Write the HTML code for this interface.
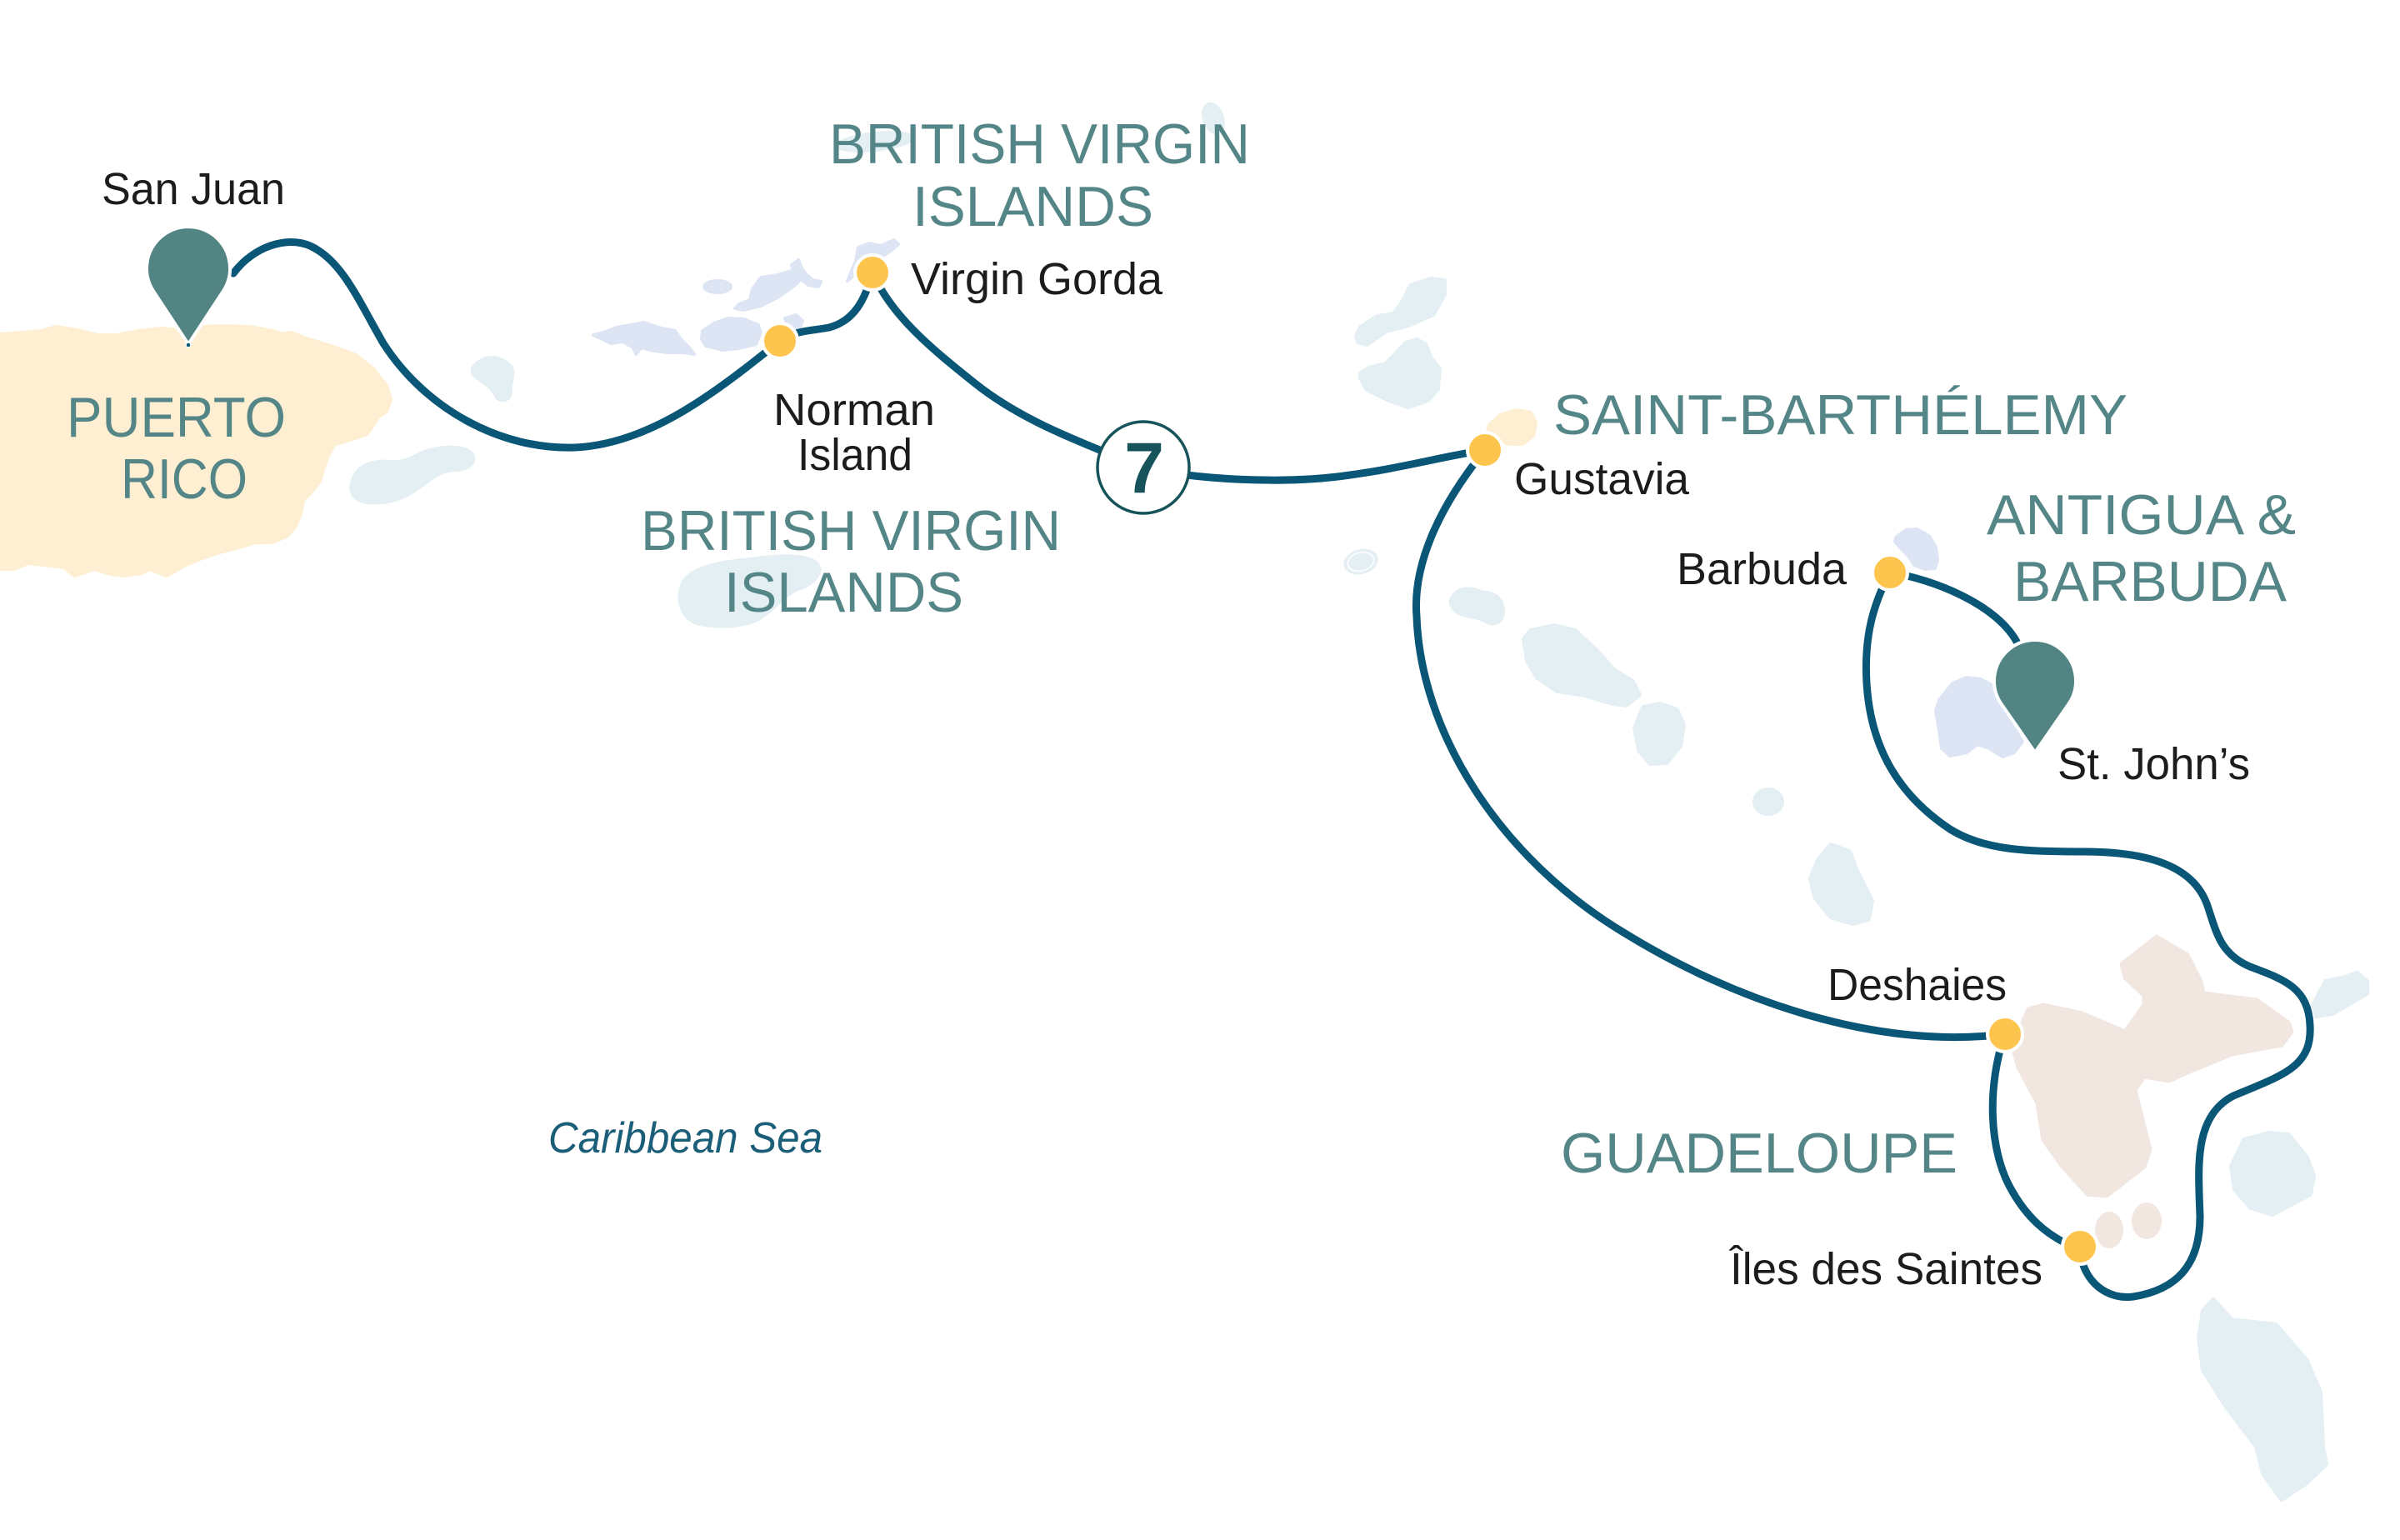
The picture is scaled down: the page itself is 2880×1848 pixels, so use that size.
<!DOCTYPE html>
<html>
<head>
<meta charset="utf-8">
<style>
html,body{margin:0;padding:0;background:#ffffff;}
svg{display:block;}
.lbl{font-family:"Liberation Sans",sans-serif;font-size:54px;fill:#1c1c1c;}
.reg{font-family:"Liberation Sans",sans-serif;font-size:68px;fill:#548688;}
.lb{fill:#e3eff3;stroke:#e3eff3;stroke-width:6;stroke-linejoin:round;}
.lv{fill:#dde5f4;stroke:#dde5f4;stroke-width:4;stroke-linejoin:round;}
</style>
</head>
<body>
<svg width="2880" height="1848" viewBox="0 0 2880 1848" xmlns="http://www.w3.org/2000/svg">
<rect width="2880" height="1848" fill="#ffffff"/>

<!-- Puerto Rico -->
<path fill="#feefd2" stroke="#feefd2" stroke-width="6" stroke-linejoin="round" d="M0,402 L27,400 L50,398 L67,393 L93,397 L117,403 L140,403 L167,398 L193,395 L217,397 L240,393 L267,392 L300,393 L327,398 L340,402 L350,400 L367,407 L400,417 L427,427 L447,443 L463,463 L468,480 L463,493 L453,500 L447,510 L440,520 L420,527 L400,533 L393,547 L387,563 L383,577 L373,590 L363,600 L360,617 L353,633 L343,643 L327,650 L307,650 L283,657 L260,663 L240,670 L223,677 L200,690 L180,682 L170,687 L150,690 L133,688 L113,682 L90,690 L77,680 L53,677 L33,675 L17,682 L0,682 Z"/>

<!-- light blue islands -->
<path class="lb" d="M575,435 C590,425 605,432 612,440 C618,450 610,460 612,470 C612,480 600,482 596,475 C590,462 580,458 572,452 C565,447 567,440 575,435 Z"/>
<path class="lb" d="M424,576 C430,558 450,553 470,555 C490,556 500,546 515,541 C535,536 560,536 566,546 C571,556 560,563 545,563 C525,564 515,576 500,586 C480,600 460,604 440,602 C425,599 419,590 424,576 Z"/>
<path class="lb" d="M820,700 C830,680 870,675 900,672 C930,668 960,665 978,675 C990,685 975,700 960,705 C940,712 930,730 910,742 C890,752 860,752 840,748 C818,742 812,720 820,700 Z"/>
<ellipse cx="1050" cy="170" rx="48" ry="12" fill="#e3eff3" transform="rotate(-6 1050 170)"/>
<ellipse cx="1456" cy="142" rx="13" ry="20" fill="#e3eff3" transform="rotate(-20 1456 142)"/>
<path class="lb" d="M1630,410 L1640,413 L1663,397 L1690,390 L1720,377 L1733,353 L1733,337 L1717,335 L1693,343 L1683,363 L1673,377 L1653,380 L1633,393 L1628,403 Z"/>
<path class="lb" d="M1633,453 L1640,467 L1667,480 L1690,488 L1713,480 L1725,467 L1727,443 L1717,430 L1710,413 L1700,408 L1687,412 L1673,427 L1663,437 L1643,442 L1633,448 Z"/>
<g transform="rotate(-15 1633 674)">
<ellipse cx="1633" cy="674" rx="21" ry="15" fill="#e3eff3"/>
<ellipse cx="1633" cy="674" rx="16" ry="11" fill="#e3eff3" stroke="#ffffff" stroke-width="1.6"/>
</g>
<path class="lb" d="M1745,715 C1755,703 1770,708 1780,712 C1795,712 1803,720 1803,735 C1802,748 1790,750 1782,744 C1770,738 1755,740 1747,732 C1740,725 1740,720 1745,715 Z"/>
<path class="lb" d="M1837,757 L1865,751 L1890,757 L1918,783 L1935,803 L1959,818 L1967,834 L1951,846 L1935,844 L1902,834 L1869,829 L1845,813 L1833,793 L1829,767 Z"/>
<path class="lb" d="M1972,849 L1992,845 L2012,852 L2020,869 L2016,895 L2000,915 L1980,916 L1967,900 L1962,874 Z"/>
<ellipse cx="2122" cy="962" rx="19" ry="17" fill="#e3eff3"/>
<path class="lb" d="M2197,1014 L2219,1022 L2227,1043 L2246,1081 L2242,1103 L2223,1108 L2197,1100 L2178,1076 L2173,1054 L2182,1032 Z"/>
<path class="lb" d="M2776,1206 L2791,1178 L2814,1173 L2829,1168 L2840,1178 L2840,1192 L2821,1203 L2799,1216 L2780,1219 Z"/>
<path class="lb" d="M2693,1368 L2723,1360 L2746,1362 L2768,1389 L2776,1411 L2772,1433 L2753,1443 L2727,1457 L2701,1449 L2682,1427 L2678,1400 Z"/>
<path class="lb" d="M2656,1560 L2678,1584 L2731,1590 L2768,1633 L2784,1671 L2787,1736 L2791,1757 L2768,1779 L2738,1799 L2716,1768 L2708,1736 L2671,1687 L2644,1644 L2639,1606 L2644,1573 Z"/>

<!-- lavender islands (BVI / USVI) -->
<path class="lv" d="M712,402 L723,407 L733,412 L747,410 L760,417 L763,425 L770,417 L780,420 L800,423 L820,423 L833,425 L827,417 L817,407 L810,397 L790,393 L773,387 L757,390 L740,393 L727,398 Z"/>
<path class="lv" d="M842,407 L847,415 L867,420 L887,418 L907,413 L913,400 L910,390 L893,383 L873,382 L857,388 L843,397 Z"/>
<path class="lv" d="M882,370 L893,372 L913,367 L933,357 L953,343 L963,333 L962,323 L950,325 L933,330 L913,333 L903,347 L900,360 L887,365 Z"/>
<ellipse cx="861" cy="344" rx="18" ry="9" fill="#dde5f4"/>
<path class="lv" d="M1017,337 L1027,313 L1030,297 L1043,292 L1057,295 L1073,288 L1078,293 L1070,300 L1060,307 L1047,310 Z"/>
<path class="lv" d="M942,382 L955,378 L963,385 L960,393 L945,393 Z"/>
<path class="lv" d="M950,318 L958,312 L962,322 L968,330 L975,336 L985,338 L982,344 L970,342 L960,334 L952,326 Z"/>
<!-- Barbuda / Antigua -->
<path class="lv" d="M2275,645 L2287,636 L2300,635 L2315,643 L2323,657 L2325,672 L2322,682 L2310,683 L2297,678 L2290,667 L2280,657 L2274,650 Z"/>
<path class="lv" d="M2327,840 L2343,820 L2360,813 L2377,815 L2392,823 L2397,840 L2413,867 L2427,890 L2417,903 L2403,908 L2387,898 L2373,893 L2360,903 L2340,907 L2330,898 L2327,877 L2323,853 Z"/>

<!-- Saint-Barth (beige) -->
<path fill="#feefd2" stroke="#feefd2" stroke-width="4" stroke-linejoin="round" d="M1787,510 L1800,498 L1820,492 L1837,495 L1843,507 L1840,523 L1827,533 L1810,533 L1795,527 L1785,517 Z"/>

<!-- Guadeloupe (pink) -->
<path fill="#f1e6e0" stroke="#f1e6e0" stroke-width="5" stroke-linejoin="round" d="M2588,1124 L2625,1146 L2641,1178 L2644,1192 L2708,1200 L2746,1227 L2750,1238 L2738,1254 L2678,1265 L2625,1287 L2603,1297 L2573,1292 L2562,1308 L2573,1352 L2580,1379 L2573,1400 L2528,1435 L2505,1433 L2475,1400 L2452,1368 L2445,1324 L2422,1281 L2415,1254 L2434,1211 L2452,1206 L2498,1216 L2550,1238 L2573,1206 L2573,1195 L2550,1173 L2546,1157 Z"/>
<ellipse cx="2531" cy="1476" rx="17" ry="22" fill="#f1e6e0"/>
<ellipse cx="2576" cy="1465" rx="18" ry="22" fill="#f1e6e0"/>

<!-- Route -->
<g fill="none" stroke="#0a5677" stroke-width="9" stroke-linecap="round">
<path d="M280,328 C305,295 345,283 372,295 C410,312 430,360 460,412 C510,490 600,540 690,537 C780,533 860,470 936,409"/>
<path d="M936,409 C955,396 975,397 995,393 C1025,385 1038,360 1047,327"/>
<path d="M1047,327 C1070,380 1120,420 1170,460 C1220,500 1280,525 1372,561 C1430,575 1540,582 1620,570 C1680,562 1730,548 1782,540"/>
<path d="M1782,540 C1725,610 1695,680 1700,740 C1705,880 1800,1030 1950,1120 C2080,1200 2250,1260 2406,1241"/>
<path d="M2406,1241 C2385,1300 2385,1380 2415,1430 C2435,1465 2460,1485 2496,1500"/>
<path d="M2496,1500 C2500,1540 2530,1560 2560,1556 C2610,1548 2640,1520 2640,1460 C2638,1400 2632,1340 2680,1315 C2740,1290 2775,1280 2772,1230 C2770,1185 2740,1175 2700,1160 C2665,1145 2660,1120 2650,1090 C2635,1040 2580,1022 2500,1022 C2430,1022 2380,1020 2340,995 C2280,955 2245,900 2240,820 C2237,770 2245,730 2268,687"/>
<path d="M2268,687 C2320,695 2395,725 2420,770"/>
</g>

<!-- Day circle -->
<circle cx="1372" cy="561" r="55" fill="#ffffff" stroke="#16535b" stroke-width="3.5"/>
<text x="1373" y="591" font-family="Liberation Sans, sans-serif" font-weight="bold" font-size="86" fill="#16535b" text-anchor="middle">7</text>

<!-- Port dots -->
<g fill="#fec54e" stroke="#ffffff" stroke-width="4">
<circle cx="936" cy="409" r="21"/>
<circle cx="1047" cy="327" r="21"/>
<circle cx="1782" cy="540" r="21"/>
<circle cx="2268" cy="687" r="21"/>
<circle cx="2406" cy="1241" r="21"/>
<circle cx="2496" cy="1496" r="21"/>
</g>

<!-- Pins -->
<path d="M226,413 L184.2,349.5 A50,50 0 1,1 267.8,349.5 Z" fill="#528484" stroke="#ffffff" stroke-width="4" stroke-linejoin="round"/>
<circle cx="226" cy="414" r="3" fill="#0a5677" stroke="#ffffff" stroke-width="1.5"/>
<path d="M2442,903 L2401.7,844.9 A49,49 0 1,1 2482.3,844.9 Z" fill="#528484" stroke="#ffffff" stroke-width="4" stroke-linejoin="round"/>

<!-- Region labels -->
<text class="reg" font-size="66" x="80" y="524" textLength="263" lengthAdjust="spacingAndGlyphs">PUERTO</text>
<text class="reg" font-size="66" x="145" y="598" textLength="152" lengthAdjust="spacingAndGlyphs">RICO</text>
<text class="reg" x="995" y="196" textLength="505" lengthAdjust="spacingAndGlyphs">BRITISH VIRGIN</text>
<text class="reg" x="1095" y="271" textLength="289" lengthAdjust="spacingAndGlyphs">ISLANDS</text>
<text class="reg" x="769" y="660" textLength="504" lengthAdjust="spacingAndGlyphs">BRITISH VIRGIN</text>
<text class="reg" x="869" y="734" textLength="287" lengthAdjust="spacingAndGlyphs">ISLANDS</text>
<text class="reg" x="1864" y="521" textLength="689" lengthAdjust="spacingAndGlyphs">SAINT-BARTHÉLEMY</text>
<text class="reg" font-size="66" x="2384" y="641" textLength="371" lengthAdjust="spacingAndGlyphs">ANTIGUA &amp;</text>
<text class="reg" font-size="66" x="2416" y="721" textLength="328" lengthAdjust="spacingAndGlyphs">BARBUDA</text>
<text class="reg" x="1873" y="1407" textLength="476" lengthAdjust="spacingAndGlyphs">GUADELOUPE</text>

<!-- Port labels -->
<text class="lbl" x="122" y="245" textLength="220" lengthAdjust="spacingAndGlyphs">San Juan</text>
<text class="lbl" x="1093" y="353" textLength="302" lengthAdjust="spacingAndGlyphs">Virgin Gorda</text>
<text class="lbl" x="928" y="510" textLength="194" lengthAdjust="spacingAndGlyphs">Norman</text>
<text class="lbl" x="957" y="564" textLength="138" lengthAdjust="spacingAndGlyphs">Island</text>
<text class="lbl" x="1817" y="593" textLength="210" lengthAdjust="spacingAndGlyphs">Gustavia</text>
<text class="lbl" x="2012" y="701" textLength="204" lengthAdjust="spacingAndGlyphs">Barbuda</text>
<text class="lbl" x="2469" y="935" textLength="231" lengthAdjust="spacingAndGlyphs">St. John’s</text>
<text class="lbl" x="2193" y="1200" textLength="215" lengthAdjust="spacingAndGlyphs">Deshaies</text>
<text class="lbl" x="2076" y="1541" textLength="375" lengthAdjust="spacingAndGlyphs">Îles des Saintes</text>

<text x="658" y="1383" font-family="Liberation Sans, sans-serif" font-style="italic" font-size="52" fill="#1b5e78" textLength="329" lengthAdjust="spacingAndGlyphs">Caribbean Sea</text>
</svg>
</body>
</html>
